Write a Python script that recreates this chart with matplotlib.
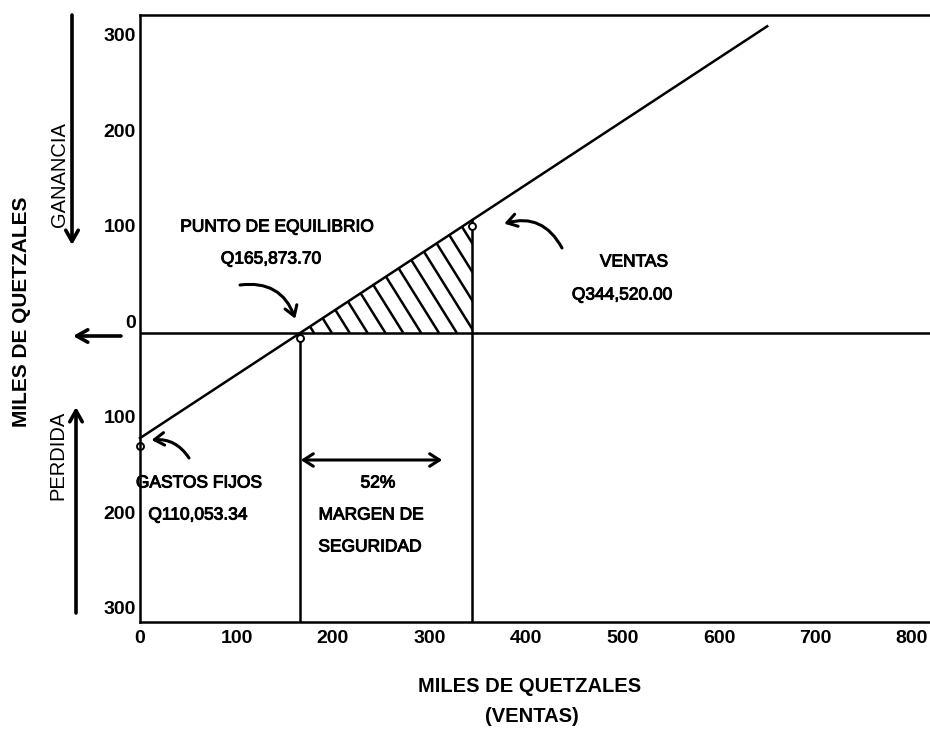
import numpy as np
import matplotlib
matplotlib.use("Agg")
import matplotlib.pyplot as plt
import matplotlib.patheffects as pe
from matplotlib.patches import Polygon, FancyArrowPatch
from matplotlib.collections import LineCollection
from matplotlib.transforms import ScaledTranslation

# Break-even figures, in thousands of quetzales
fixed_costs = 110.05334
breakeven_sales = 165.8737
actual_sales = 344.520
safety_margin_pct = 52

x_ticks = [0, 100, 200, 300, 400, 500, 600, 700, 800]
x_tick_labels = ["0", "100", "200", "300", "400", "500", "600", "700", "800"]
y_ticks = [300, 200, 100, 0, -100, -200, -300]
y_tick_labels = ["300", "200", "100", "0", "100", "200", "300"]
line_end_sales = 650

slope = fixed_costs / breakeven_sales
profit_at_sales = -fixed_costs + slope * actual_sales

W, H = 930, 747
plt.rcParams["font.family"] = ["Liberation Sans", "DejaVu Sans"]

fig = plt.figure(figsize=(W / 100, H / 100), dpi=100)
ax = fig.add_axes([140 / W, 1 - 622 / H, 790 / W, 607 / H])
ax.set_xlim(0, 818.7)
ax.set_ylim(-302.6, 333)


def fp(x, y):
    """Figure-fraction position from pixel position (origin top-left)."""
    return (x / W, 1 - y / H)


LW = 1.8
for side in ("left", "top", "bottom"):
    ax.spines[side].set_linewidth(LW)
ax.spines["right"].set_visible(False)

ax.set_xticks(x_ticks)
ax.set_xticklabels(x_tick_labels, fontsize=14, fontweight="bold")
ax.set_yticks(y_ticks)
ax.set_yticklabels(y_tick_labels, fontsize=14, fontweight="bold")
ax.tick_params(axis="both", length=0)
ax.tick_params(axis="x", pad=6)
ax.tick_params(axis="y", pad=3)
for lab in ax.get_yticklabels():
    lab.set_transform(lab.get_transform() + ScaledTranslation(0, 0.12, fig.dpi_scale_trans))

# Zero-profit line
ax.axhline(0, color="black", lw=LW)

# Sales / profit line starting at the fixed costs
xs = np.array([0, line_end_sales])
ax.plot(xs, -fixed_costs + slope * xs, color="black", lw=LW, clip_on=False)

# Verticals at break-even and actual sales
ybot = ax.get_ylim()[0]
ax.plot([breakeven_sales, breakeven_sales], [ybot, 0], color="black", lw=LW)
ax.plot([actual_sales, actual_sales], [ybot, profit_at_sales], color="black", lw=LW)

# Small open markers at the key points
ax.plot([0, breakeven_sales, actual_sales], [-fixed_costs - 8, -5, profit_at_sales - 6],
        ls="none", marker="o", ms=5, mfc="white", mec="black", mew=1.4, clip_on=False)

# Hatched profit area (margin of safety)
tri = Polygon([[breakeven_sales, 0], [actual_sales, 0], [actual_sales, profit_at_sales]],
              closed=True, facecolor="none", edgecolor="none")
ax.add_patch(tri)
hatch_slope = -1.62
segs = []
for c in np.arange(breakeven_sales - 300, actual_sales + 400, 18.5):
    segs.append([(c, 0), (c + 400 / hatch_slope, 400)])
hatch = LineCollection(segs, colors="black", linewidths=1.8)
ax.add_collection(hatch)
hatch.set_clip_path(tri)

# Annotations
thick = [pe.withStroke(linewidth=0.7, foreground="black")]
txt = dict(ha="center", va="center", fontsize=12.5, color="black", path_effects=thick)
fig.text(*fp(277, 227), "PUNTO DE EQUILIBRIO", **txt)
fig.text(*fp(271, 259), f"Q{breakeven_sales * 1000:,.2f}", **txt)
fig.text(*fp(634, 262), "VENTAS", **txt)
fig.text(*fp(622, 295), f"Q{actual_sales * 1000:,.2f}", **txt)
fig.text(*fp(199, 483), "GASTOS FIJOS", **txt)
fig.text(*fp(198, 515), f"Q{fixed_costs * 1000:,.2f}", **txt)
fig.text(*fp(378, 483), f"{safety_margin_pct}%", **txt)
fig.text(*fp(371, 515), "MARGEN DE", **txt)
fig.text(*fp(370, 547), "SEGURIDAD", **txt)

arrow = dict(arrowstyle="->,head_length=0.7,head_width=0.45", color="black", lw=2.2,
             shrinkA=0, shrinkB=0)
ax.annotate("", xy=(breakeven_sales - 5, 15), xycoords="data",
            xytext=fp(240, 285), textcoords="figure fraction",
            arrowprops=dict(arrow, connectionstyle="arc3,rad=-0.4"))
ax.annotate("", xy=(actual_sales + 33, profit_at_sales - 4), xycoords="data",
            xytext=fp(562, 248), textcoords="figure fraction",
            arrowprops=dict(arrow, connectionstyle="arc3,rad=0.4"))
ax.annotate("", xy=(12, -fixed_costs - 2), xycoords="data",
            xytext=fp(189, 458), textcoords="figure fraction",
            arrowprops=dict(arrow, connectionstyle="arc3,rad=0.3"))
fig.add_artist(FancyArrowPatch(
    fp(298, 460), fp(445, 460), transform=fig.transFigure,
    arrowstyle="<->,head_length=0.7,head_width=0.45", color="black", lw=2.2,
    mutation_scale=10))

# Outer direction arrows for profit / loss
out_arrow = dict(arrowstyle="->,head_length=0.8,head_width=0.45", color="black", lw=2.6,
                 shrinkA=0, shrinkB=0)
ax.annotate("", xy=fp(72, 245), xycoords="figure fraction",
            xytext=fp(72, 15), textcoords="figure fraction", arrowprops=out_arrow)
ax.annotate("", xy=fp(76, 407), xycoords="figure fraction",
            xytext=fp(76, 613), textcoords="figure fraction", arrowprops=out_arrow)
ax.annotate("", xy=fp(73, 336), xycoords="figure fraction",
            xytext=fp(121, 336), textcoords="figure fraction", arrowprops=out_arrow)

fig.text(*fp(60, 175), "GANANCIA", rotation=90, ha="center", va="center", fontsize=14.5)
fig.text(*fp(58, 455), "PERDIDA", rotation=90, ha="center", va="center", fontsize=14.5)
fig.text(*fp(22, 312), "MILES DE QUETZALES", rotation=90, ha="center", va="center",
         fontsize=15, fontweight="bold")
fig.text(*fp(530, 687), "MILES DE QUETZALES", ha="center", va="center",
         fontsize=14.5, fontweight="bold")
fig.text(*fp(532, 717), "(VENTAS)", ha="center", va="center",
         fontsize=14.5, fontweight="bold")

fig.savefig("out.png", dpi=100)
